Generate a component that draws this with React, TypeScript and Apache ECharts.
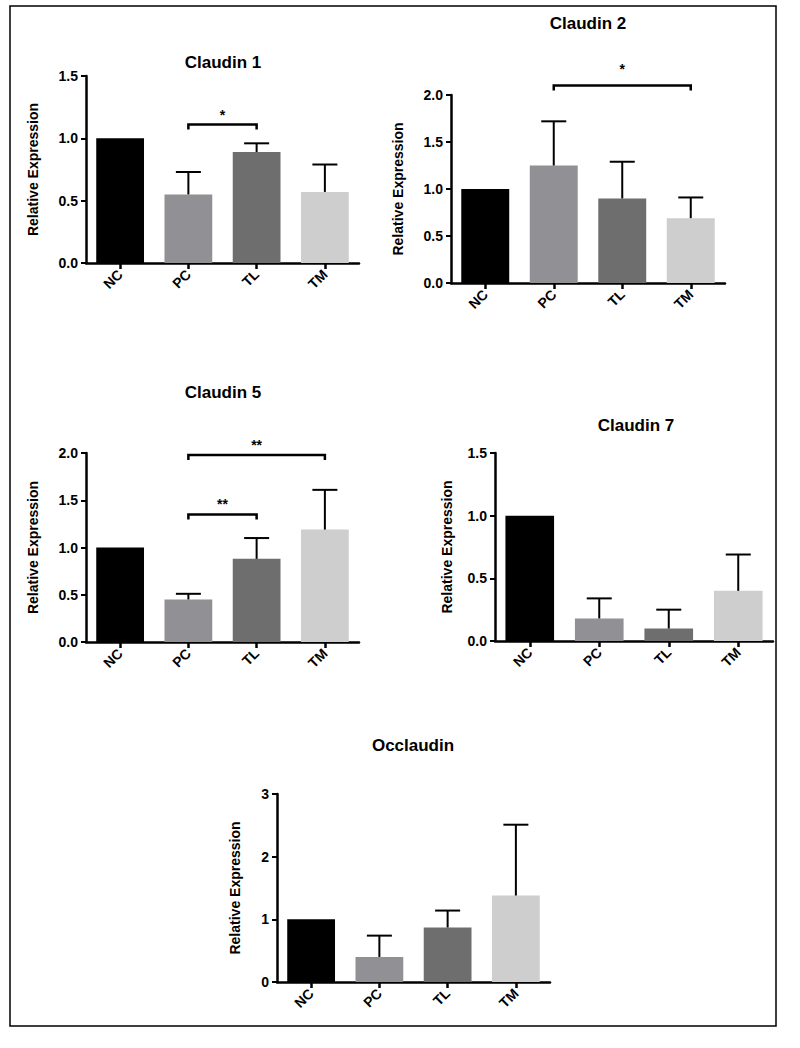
import React, { useEffect, useRef } from "react";
import * as echarts from "echarts";

const categories = ["NC", "PC", "TL", "TM"];

const claudin1Mean = [1.0, 0.55, 0.89, 0.57];
const claudin1Err = [0, 0.18, 0.07, 0.22];
const claudin2Mean = [1.0, 1.25, 0.9, 0.69];
const claudin2Err = [0, 0.47, 0.39, 0.22];
const claudin5Mean = [1.0, 0.45, 0.88, 1.19];
const claudin5Err = [0, 0.06, 0.22, 0.42];
const claudin7Mean = [1.0, 0.18, 0.1, 0.4];
const claudin7Err = [0, 0.16, 0.15, 0.29];
const occludinMean = [1.0, 0.4, 0.87, 1.38];
const occludinErr = [0, 0.34, 0.27, 1.13];

// [fromIndex, toIndex, yValue, label]
const claudin1Sig = [[1, 2, 1.11, "*"]];
const claudin2Sig = [[1, 3, 2.1, "*"]];
const claudin5Sig = [
  [1, 2, 1.35, "**"],
  [1, 3, 1.98, "**"],
];
const claudin7Sig: any[] = [];
const occludinSig: any[] = [];

const titles = ["Claudin 1", "Claudin 2", "Claudin 5", "Claudin 7", "Occlaudin"];
const yMax = [1.5, 2.0, 2.0, 1.5, 3];
const yInterval = [0.5, 0.5, 0.5, 0.5, 1];

const barColors = ["#000000", "#909095", "#6e6e6e", "#cecece"];
const FONT = "'Liberation Sans', Arial, Helvetica, sans-serif";

const panels = [
  { mean: claudin1Mean, err: claudin1Err, sig: claudin1Sig },
  { mean: claudin2Mean, err: claudin2Err, sig: claudin2Sig },
  { mean: claudin5Mean, err: claudin5Err, sig: claudin5Sig },
  { mean: claudin7Mean, err: claudin7Err, sig: claudin7Sig },
  { mean: occludinMean, err: occludinErr, sig: occludinSig },
];

const layout = [
  { left: 86, top: 76, width: 273, height: 187, tx: 223, ty: 62, gap: 46, starGap: 3 },
  { left: 451, top: 95, width: 274, height: 188, tx: 588, ty: 23, gap: 46, starGap: 10 },
  { left: 86, top: 453, width: 273, height: 189, tx: 223, ty: 392, gap: 46, starGap: 3 },
  { left: 495, top: 453, width: 278, height: 188, tx: 636, ty: 425, gap: 41, starGap: 3 },
  { left: 277, top: 794, width: 273, height: 188, tx: 413, ty: 745, gap: 35, starGap: 3 },
];

export default function App() {
  const ref = useRef<HTMLDivElement>(null);
  useEffect(() => {
    if (!ref.current) return;
    const chart = echarts.init(ref.current, undefined, { renderer: "svg" });

    const grid: any[] = [];
    const xAxis: any[] = [];
    const yAxis: any[] = [];
    const series: any[] = [];
    const graphic: any[] = [
      {
        type: "rect",
        shape: { x: 10, y: 6, width: 766, height: 1020 },
        style: { fill: "none", stroke: "#000", lineWidth: 1.5 },
        z: 100,
      },
    ];

    panels.forEach((p, i) => {
      const L = layout[i];
      grid.push({ left: L.left, top: L.top, width: L.width, height: L.height, containLabel: false });
      xAxis.push({
        type: "category",
        gridIndex: i,
        data: categories,
        axisLine: { lineStyle: { color: "#000", width: 2.5 } },
        axisTick: { show: true, alignWithLabel: true, length: 6, lineStyle: { color: "#000", width: 2.5 } },
        axisLabel: {
          rotate: 45,
          margin: 9,
          color: "#000",
          fontWeight: "bold",
          fontSize: 14,
          fontFamily: FONT,
        },
        splitLine: { show: false },
      });
      yAxis.push({
        type: "value",
        gridIndex: i,
        min: 0,
        max: yMax[i],
        interval: yInterval[i],
        name: "Relative Expression",
        nameLocation: "middle",
        nameRotate: 90,
        nameGap: L.gap,
        nameTextStyle: { color: "#000", fontWeight: "bold", fontSize: 14, fontFamily: FONT },
        axisLine: { show: true, lineStyle: { color: "#000", width: 2.5 } },
        axisTick: { show: true, length: 5, lineStyle: { color: "#000", width: 2 } },
        axisLabel: {
          margin: 8,
          color: "#000",
          fontWeight: "bold",
          fontSize: 14,
          fontFamily: FONT,
          formatter: (v: number) => (yInterval[i] < 1 ? v.toFixed(1) : String(v)),
        },
        splitLine: { show: false },
      });
      series.push({
        type: "bar",
        xAxisIndex: i,
        yAxisIndex: i,
        barWidth: "70%",
        data: p.mean.map((v, k) => ({ value: v, itemStyle: { color: barColors[k] } })),
        z: 2,
      });
      series.push({
        type: "custom",
        xAxisIndex: i,
        yAxisIndex: i,
        z: 3,
        encode: { x: 0, y: 1 },
        data: p.mean.map((v, k) => [k, v, p.err[k]]),
        renderItem: (params: any, api: any) => {
          const k = api.value(0);
          const m = api.value(1);
          const e = api.value(2);
          if (!e) return null;
          const base = api.coord([k, m]);
          const top = api.coord([k, m + e]);
          const half = 12.5;
          return {
            type: "group",
            children: [
              {
                type: "line",
                shape: { x1: base[0], y1: base[1], x2: top[0], y2: top[1] },
                style: { stroke: "#000", lineWidth: 2 },
              },
              {
                type: "line",
                shape: { x1: top[0] - half, y1: top[1], x2: top[0] + half, y2: top[1] },
                style: { stroke: "#000", lineWidth: 2 },
              },
            ],
          };
        },
      });
      if (p.sig.length) {
        series.push({
          type: "custom",
          xAxisIndex: i,
          yAxisIndex: i,
          z: 4,
          clip: false,
          encode: { x: [0, 1], y: 2 },
          data: p.sig.map((s: any) => [s[0], s[1], s[2], s[3]]),
          renderItem: (params: any, api: any) => {
            const idx = params.dataIndex;
            const label = p.sig[idx][3];
            const a = api.coord([api.value(0), api.value(2)]);
            const b = api.coord([api.value(1), api.value(2)]);
            const tip = 5;
            return {
              type: "group",
              children: [
                {
                  type: "polyline",
                  shape: {
                    points: [
                      [a[0], a[1] + tip],
                      [a[0], a[1]],
                      [b[0], b[1]],
                      [b[0], b[1] + tip],
                    ],
                  },
                  style: { stroke: "#000", lineWidth: 2.5, fill: "none" },
                },
                {
                  type: "text",
                  x: (a[0] + b[0]) / 2,
                  y: a[1] - L.starGap,
                  style: {
                    text: label,
                    align: "center",
                    verticalAlign: "bottom",
                    fontSize: 14,
                    fontWeight: "bold",
                    fontFamily: FONT,
                    fill: "#000",
                  },
                },
              ],
            };
          },
        });
      }
      graphic.push({
        type: "text",
        x: L.tx,
        y: L.ty,
        style: {
          text: titles[i],
          align: "center",
          verticalAlign: "middle",
          fontSize: 17,
          fontWeight: "bold",
          fontFamily: FONT,
          fill: "#000",
        },
      });
    });

    chart.setOption({
      animation: false,
      backgroundColor: "#ffffff",
      grid,
      xAxis,
      yAxis,
      series,
      graphic,
    });
    return () => chart.dispose();
  }, []);
  return (
    <div
      ref={ref}
      style={{ position: "absolute", left: 0, top: 0, width: 800, height: 1048, background: "#fff" }}
    />
  );
}
